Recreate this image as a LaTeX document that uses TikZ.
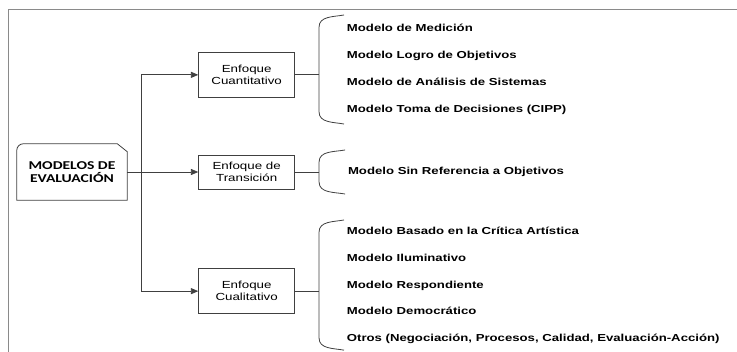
\documentclass[tikz,border=0pt]{standalone}
\usepackage{fontspec}
\setmainfont{Liberation Sans}[FakeStretch=1.3]
\newfontfamily\titlefont{Carlito}[FakeStretch=1.3]
\usepackage{tikz}
\usetikzlibrary{calc,positioning,arrows.meta}
\definecolor{linegray}{HTML}{404040}
\definecolor{framegray}{HTML}{8A8A8A}
\tikzstyle{arrow} = [semithick, draw=linegray, -{Triangle[length=5.5pt,width=4.5pt]}]
\tikzstyle{line} = [semithick, draw=linegray]

\begin{document}
\begin{tikzpicture}
\tikzset{%
	mainbox/.style = { rectangle, minimum width=82.5pt, minimum height=42pt, align=center, font=\titlefont\bfseries\fontsize{9}{9.5}\selectfont},
	box/.style = { rectangle, draw=linegray, semithick, minimum width=72pt, minimum height=33.5pt, align=center, font=\fontsize{7.7}{9.2}\selectfont},
	item/.style = { inner sep=0pt, anchor=west, text height=6pt, text depth=1.6pt, font=\bfseries\fontsize{7.6}{9}\selectfont}
}
\useasboundingbox (0,0) rectangle (552.75pt,-264pt);
\draw [framegray, semithick] (6pt,-264pt) |- (552.75pt,-6.75pt);

\node(Main)			[mainbox] at (54pt,-129pt)
								{MODELOS DE\\EVALUACIÓN};
\draw [line] (Main.south west) -- ([yshift=-5pt]Main.north west)
	arc[start angle=180, end angle=90, radius=5pt]
	-- ([xshift=-7.5pt]Main.north east) -- ([yshift=-6pt]Main.north east)
	-- (Main.south east) -- cycle;

\node(Trans)		[box, minimum height=25.5pt, right=53.25pt of Main]
								{Enfoque de\\Transición};
\node(Cuant)		[box, above=42.75pt of Trans]
								{Enfoque\\Cuantitativo};
\node(Cual)			[box, below=59.25pt of Trans]
								{Enfoque\\Cualitativo};

\coordinate (Split)		at ($(Main.east)+(10.5pt,0)$);
\coordinate (CuantJoin)	at ($(Cuant.east)+(18pt,0)$);
\coordinate (TransJoin)	at ($(Trans.east)+(18pt,0)$);
\coordinate (CualJoin)	at ($(Cual.east)+(18pt,0)$);

\node(CuantA)		[item] at (260pt,-21.75pt)
								{Modelo de Medición};
\node(CuantB)		[item, below=20.25pt of CuantA.west, anchor=west]
								{Modelo Logro de Objetivos};
\node(CuantC)		[item, below=20.25pt of CuantB.west, anchor=west]
								{Modelo de Análisis de Sistemas};
\node(CuantD)		[item, below=20.25pt of CuantC.west, anchor=west]
								{Modelo Toma de Decisiones (CIPP)};

\node(TransA)		[item, right=21.5pt of TransJoin, anchor=west]
								{Modelo Sin Referencia a Objetivos};

\node(CualA)		[item] at (260pt,-174pt)
								{Modelo Basado en la Crítica Artística};
\node(CualB)		[item, below=19.9pt of CualA.west, anchor=west]
								{Modelo Iluminativo};
\node(CualC)		[item, below=19.9pt of CualB.west, anchor=west]
								{Modelo Respondiente};
\node(CualD)		[item, below=19.9pt of CualC.west, anchor=west]
								{Modelo Democrático};
\node(CualE)		[item, below=19.9pt of CualD.west, anchor=west]
								{Otros (Negociación, Procesos, Calidad, Evaluación-Acción)};

\coordinate (CuantTop)	at ($(CuantA.west)+(-2pt,10.5pt)$);
\coordinate (CuantBot)	at ($(CuantD.west)+(-2pt,-10.5pt)$);
\coordinate (TransTop)	at ($(TransA.west)+(-2pt,16.5pt)$);
\coordinate (TransBot)	at ($(TransA.west)+(-2pt,-16.5pt)$);
\coordinate (CualTop)	at ($(CualA.west)+(-2pt,9pt)$);
\coordinate (CualBot)	at ($(CualE.west)+(-2pt,-9pt)$);

\draw [arrow]	(Main.east) -- (Trans.west);
\draw [arrow]	(Split) |- (Cuant.west);
\draw [arrow]	(Split) |- (Cual.west);

\draw [line]		(Cuant.east) -- (CuantJoin);
\draw [line]		(Trans.east) -- (TransJoin);
\draw [line]		(Cual.east) -- (CualJoin);

\draw [line]		(CuantTop) to[out=190, in=90] ($(CuantJoin|-CuantTop)+(0,-9pt)$)
						-- ($(CuantJoin|-CuantBot)+(0,9pt)$) to[out=-90, in=170] (CuantBot);
\draw [line]		(TransTop) to[out=190, in=90] ($(TransJoin|-TransTop)+(0,-9pt)$)
						-- ($(TransJoin|-TransBot)+(0,9pt)$) to[out=-90, in=170] (TransBot);
\draw [line]		(CualTop) to[out=190, in=90] ($(CualJoin|-CualTop)+(0,-9pt)$)
						-- ($(CualJoin|-CualBot)+(0,9pt)$) to[out=-90, in=170] (CualBot);

\end{tikzpicture}
\end{document}
